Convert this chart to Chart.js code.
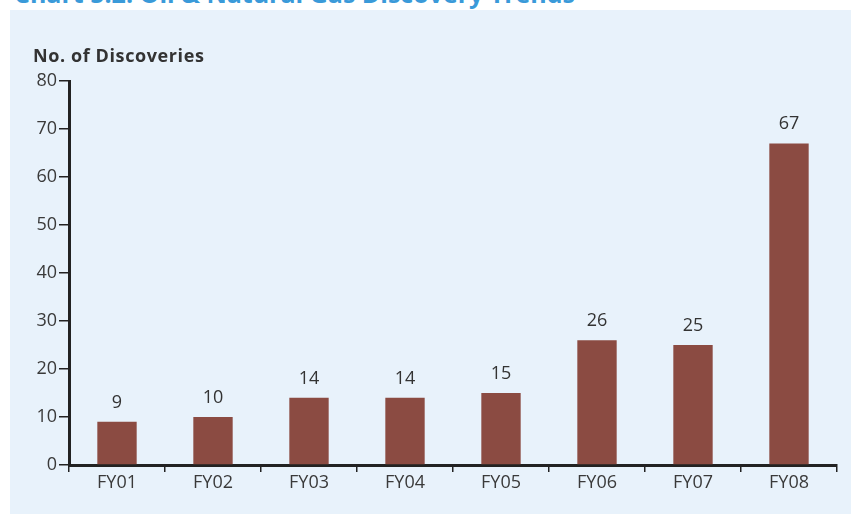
<!DOCTYPE html>
<html>
<head>
<meta charset="utf-8">
<script src="https://cdn.jsdelivr.net/npm/chart.js@4/dist/chart.umd.min.js"></script>
<style>
  body { margin: 0; width: 851px; height: 514px; overflow: hidden; background: #fff; position: relative; font-family: "Open Sans", sans-serif; }
  .top-title { position: absolute; left: 14px; top: -24px; font-size: 25px; font-weight: bold; color: #3a9ad9; white-space: nowrap; }
  .panel { position: absolute; left: 10px; top: 10px; width: 841px; height: 504px; background: #e8f2fb; }
  canvas { position: absolute; left: 0; top: 0; }
</style>
</head>
<body>
<div class="top-title">Chart 5.2: Oil &amp; Natural Gas Discovery Trends</div>
<div class="panel"></div>
<canvas id="grafico" width="851" height="514"></canvas>
<script>
// dados do gráfico
const categories = ['FY01', 'FY02', 'FY03', 'FY04', 'FY05', 'FY06', 'FY07', 'FY08'];
const discoveries = [9, 10, 14, 14, 15, 26, 25, 67];
const yTicks = [0, 10, 20, 30, 40, 50, 60, 70, 80];
const axisTitle = 'No. of Discoveries';

// valores acima das barras + título do eixo
const labelsPlugin = {
  id: 'labelsPlugin',
  afterDatasetsDraw(chart) {
    const ctx = chart.ctx;
    const meta = chart.getDatasetMeta(0);
    ctx.save();
    ctx.fillStyle = '#333';
    ctx.font = '18px "Open Sans"';
    ctx.textAlign = 'center';
    ctx.textBaseline = 'alphabetic';
    meta.data.forEach((bar, i) => {
      ctx.fillText(discoveries[i], bar.x, bar.y - 14);
    });
    ctx.font = 'bold 18px "Open Sans"';
    ctx.letterSpacing = '0.6px';
    ctx.textAlign = 'left';
    ctx.fillText(axisTitle, 33, 62);
    ctx.restore();
  }
};

const ctx = document.getElementById('grafico').getContext('2d');
new Chart(ctx, {
  type: 'bar',
  data: {
    labels: categories,
    datasets: [{
      data: discoveries,
      backgroundColor: '#8b4b42',
      barPercentage: 0.41,
      categoryPercentage: 1
    }]
  },
  options: {
    responsive: false,
    animation: false,
    layout: { padding: { top: 81, right: 14, bottom: 0, left: 0 } },
    plugins: {
      legend: { display: false },
      tooltip: { enabled: false }
    },
    scales: {
      x: {
        grid: { offset: true, drawOnChartArea: false, drawTicks: true, tickLength: 7, color: '#222', lineWidth: 1.5 },
        border: { color: '#222', width: 3 },
        ticks: { color: '#3a3a3a', font: { family: 'Open Sans', size: 18 }, padding: 0 },
        afterFit: s => { s.height = 49; }
      },
      y: {
        min: 0,
        max: 80,
        grid: { drawOnChartArea: false, drawTicks: true, tickLength: 10, color: '#222', lineWidth: 1.5 },
        border: { color: '#222', width: 3 },
        ticks: { color: '#3a3a3a', font: { family: 'Open Sans', size: 18 }, padding: 2 },
        afterBuildTicks: s => { s.ticks = yTicks.map(v => ({ value: v })); },
        afterFit: s => { s.width = 69; }
      }
    }
  },
  plugins: [labelsPlugin]
});
</script>
</body>
</html>
